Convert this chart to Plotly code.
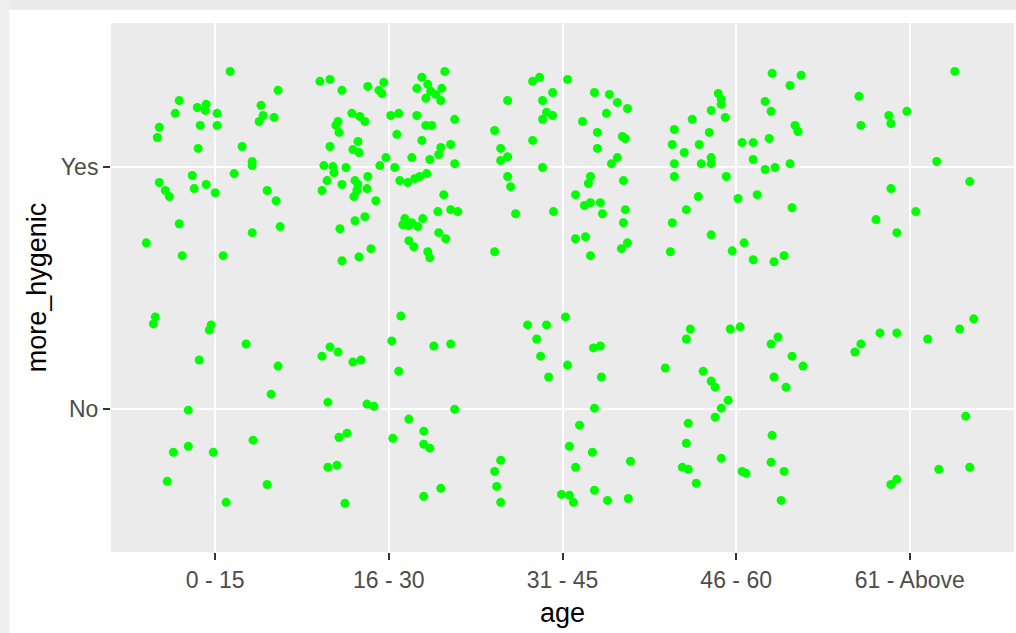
import plotly.graph_objects as go

age_levels = ["0 - 15", "16 - 30", "31 - 45", "46 - 60", "61 - Above"]
hygenic_levels = ["No", "Yes"]

# jitter offsets along x (relative to the age category) and jittered y values (No=0, Yes=1)
g1_dx = [0.086, 0.362, -0.207, 0.264, -0.103, -0.052, -0.057, -0.230, 0.011, 0.276, 0.253, 0.339,
         -0.322, -0.333, -0.086, 0.011, -0.098, 0.155, 0.213, 0.213, -0.132, 0.109, -0.322, -0.287,
         -0.264, -0.121, -0.052, 0.000, 0.299, 0.351, -0.207, 0.213, 0.374, -0.397, -0.190, 0.046,
         -0.345, -0.356, -0.023, -0.034, 0.178, -0.092, 0.362, 0.322, -0.155, 0.218, -0.155, -0.241,
         -0.011, -0.276, 0.299, 0.063]
g1_y = [1.395, 1.317, 1.275, 1.255, 1.246, 1.259, 1.234, 1.222, 1.222, 1.213, 1.188, 1.205,
        1.164, 1.122, 1.172, 1.172, 1.077, 1.085, 1.023, 1.006, 0.965, 0.973, 0.936, 0.903,
        0.878, 0.911, 0.928, 0.894, 0.903, 0.861, 0.766, 0.729, 0.754, 0.687, 0.634, 0.634,
        0.381, 0.352, 0.348, 0.327, 0.269, 0.203, 0.178, 0.062, -0.004, -0.128, -0.153, -0.178,
        -0.178, -0.298, -0.311, -0.385]

g2_dx = [-0.397, -0.339, -0.270, -0.121, -0.029, -0.057, -0.040, 0.322, 0.190, 0.161, 0.224, 0.241,
         0.270, 0.305, 0.213, 0.299, -0.213, -0.167, -0.138, -0.293, -0.305, -0.287, 0.011, 0.057,
         0.161, 0.213, 0.247, 0.379, 0.046, -0.339, -0.178, -0.207, -0.172, 0.190, 0.356, 0.299,
         0.287, 0.132, 0.236, 0.379, -0.017, -0.052, 0.034, -0.374, -0.322, -0.316, -0.247,
         -0.356, -0.385, -0.270, -0.195, -0.178, -0.184, -0.201, -0.121, -0.126, -0.075,
         0.063, 0.109, 0.149, 0.178, 0.218, 0.316, 0.282, 0.356, 0.397,
         0.092, 0.080, 0.132, 0.167, 0.195, 0.115,
         -0.195, -0.138, -0.282, 0.287, 0.328, 0.115, 0.144, -0.103, -0.172, -0.270, 0.224, 0.236,
         0.069, 0.017, 0.259, 0.356, -0.339, -0.293, -0.385, -0.207, -0.161, 0.057, -0.351, -0.126,
         -0.086, 0.379, 0.115, 0.201, -0.287, -0.241, 0.023, 0.201, 0.236, -0.351, -0.299, 0.299,
         0.201, -0.253]
g2_y = [1.354, 1.362, 1.317, 1.333, 1.350, 1.317, 1.304, 1.395, 1.371, 1.325, 1.342, 1.313,
        1.300, 1.325, 1.284, 1.275, 1.222, 1.209, 1.188, 1.188, 1.172, 1.143, 1.213, 1.222,
        1.213, 1.172, 1.172, 1.197, 1.135, 1.085, 1.106, 1.072, 1.060, 1.110, 1.093, 1.081,
        1.052, 1.039, 1.031, 1.014, 1.039, 1.006, 0.998, 1.006, 1.002, 0.977, 0.998,
        0.944, 0.903, 0.928, 0.944, 0.928, 0.903, 0.878, 0.961, 0.911, 0.861,
        0.944, 0.936, 0.952, 0.961, 0.973, 0.886, 0.816, 0.824, 0.816,
        0.787, 0.762, 0.770, 0.754, 0.787, 0.758,
        0.778, 0.795, 0.745, 0.729, 0.704, 0.696, 0.671, 0.663, 0.629, 0.613, 0.650, 0.625,
        0.385, 0.282, 0.261, 0.269, 0.257, 0.236, 0.219, 0.195, 0.203, 0.157, 0.029, 0.021,
        0.012, 0.000, -0.041, -0.091, -0.116, -0.099, -0.120, -0.145, -0.161, -0.240, -0.232, -0.327,
        -0.360, -0.389]

g3_dx = [-0.172, -0.132, 0.029, -0.316, -0.115, -0.057, -0.092, -0.115, -0.057, 0.184, 0.270, 0.316,
         0.374, 0.253, 0.115, -0.391, -0.172, 0.201, 0.345, 0.362, -0.356, 0.201, -0.316, -0.356,
         0.316, 0.282, -0.115, -0.316, -0.299, 0.161, 0.149, 0.351, 0.075, 0.126, 0.161, 0.218,
         0.230, -0.270, -0.052, 0.362, 0.351, 0.075, 0.132, 0.374, 0.339, -0.391, 0.161,
         0.017, -0.201, -0.092, -0.149, 0.178, 0.218, -0.126, 0.029, -0.080, 0.224, 0.184, 0.098,
         0.040, 0.172, -0.356, 0.391, -0.391, 0.075, -0.379, -0.356, -0.006, 0.040, 0.063, 0.184,
         0.259, 0.379]
g3_y = [1.354, 1.371, 1.362, 1.275, 1.275, 1.308, 1.226, 1.197, 1.213, 1.308, 1.300, 1.267,
        1.242, 1.222, 1.188, 1.151, 1.110, 1.143, 1.126, 1.118, 1.077, 1.077, 1.043, 1.027,
        1.039, 1.014, 0.998, 0.961, 0.919, 0.961, 0.932, 0.944, 0.886, 0.841, 0.853, 0.853,
        0.807, 0.807, 0.816, 0.824, 0.770, 0.704, 0.712, 0.687, 0.663, 0.650, 0.634,
        0.381, 0.348, 0.348, 0.290, 0.253, 0.261, 0.219, 0.182, 0.133, 0.133, 0.004, -0.066,
        -0.153, -0.178, -0.211, -0.215, -0.257, -0.240, -0.319, -0.385, -0.352, -0.356, -0.385, -0.335,
        -0.377, -0.369]

g4_dx = [0.207, 0.374, 0.310, -0.103, -0.086, -0.086, 0.167, 0.201, -0.144, -0.253, -0.063, -0.356,
         -0.155, 0.339, 0.356, -0.368, -0.299, -0.213, 0.034, 0.098, 0.190, -0.144, -0.201, -0.144,
         -0.356, 0.098, 0.167, 0.224, 0.310, -0.356, -0.057, -0.218, 0.011, 0.121, -0.287, 0.322,
         -0.368, -0.144, 0.046, -0.379, -0.023, 0.098, 0.218, 0.276,
         -0.264, -0.287, -0.034, 0.023, 0.241, 0.201, 0.322, 0.385, -0.408, -0.190, -0.144, -0.121,
         0.218, 0.287, -0.046, -0.086, -0.121, -0.276, -0.287, 0.207, -0.086, -0.310, -0.276, -0.230,
         0.201, 0.276, 0.034, 0.057, 0.259]
g4_y = [1.387, 1.379, 1.337, 1.304, 1.280, 1.259, 1.271, 1.230, 1.234, 1.197, 1.205, 1.155,
        1.143, 1.172, 1.147, 1.093, 1.060, 1.093, 1.101, 1.101, 1.118, 1.039, 1.014, 1.014,
        1.014, 1.031, 0.990, 0.998, 1.014, 0.961, 0.961, 0.878, 0.870, 0.886, 0.824, 0.832,
        0.770, 0.720, 0.687, 0.650, 0.654, 0.617, 0.609, 0.634,
        0.331, 0.290, 0.331, 0.340, 0.298, 0.269, 0.219, 0.178, 0.170, 0.157, 0.116, 0.091,
        0.133, 0.091, 0.037, 0.004, -0.033, -0.058, -0.141, -0.108, -0.203, -0.240, -0.248, -0.306,
        -0.219, -0.257, -0.257, -0.265, -0.377]

g5_dx = [0.259, -0.293, -0.121, -0.109, -0.017, -0.282, 0.155, 0.345, -0.109, 0.034, -0.195, -0.075,
         0.368, 0.287, 0.103, -0.075, -0.172, -0.282, -0.316, 0.322, 0.167, 0.345, -0.075, -0.109]
g5_y = [1.395, 1.292, 1.213, 1.180, 1.230, 1.172, 1.023, 0.940, 0.911, 0.816, 0.783, 0.729,
        0.373, 0.331, 0.290, 0.315, 0.315, 0.269, 0.236, -0.029, -0.248, -0.240, -0.290, -0.311]

groups = [(g1_dx, g1_y), (g2_dx, g2_y), (g3_dx, g3_y), (g4_dx, g4_y), (g5_dx, g5_y)]

xs, ys = [], []
for i, (dx, yv) in enumerate(groups):
    assert len(dx) == len(yv), (i, len(dx), len(yv))
    xs += [i + 1 + d for d in dx]
    ys += yv

fig = go.Figure()
fig.add_trace(go.Scatter(
    x=xs, y=ys, mode="markers",
    marker=dict(color="#00FF00", size=9, line=dict(width=0)),
    showlegend=False, hoverinfo="skip",
))

font_family = "Liberation Sans, Arial, sans-serif"

fig.update_layout(
    width=1016, height=633,
    margin=dict(l=111, r=2, t=23, b=81, autoexpand=False),
    paper_bgcolor="white",
    plot_bgcolor="#EBEBEB",
    font=dict(family=font_family),
    xaxis=dict(
        range=[0.4, 5.6], tickmode="array", tickvals=[1, 2, 3, 4, 5], ticktext=age_levels,
        showgrid=True, gridcolor="white", gridwidth=2, zeroline=False,
        ticks="outside", ticklen=7, tickwidth=1.5, tickcolor="#333333",
        tickfont=dict(size=23, color="#4D4D4D", family=font_family),
        title=dict(text="age", font=dict(size=27, color="black", family=font_family), standoff=11),
        showline=False, automargin=False,
    ),
    yaxis=dict(
        range=[-0.59, 1.595], tickmode="array", tickvals=[0, 1], ticktext=hygenic_levels,
        showgrid=True, gridcolor="white", gridwidth=2, zeroline=False,
        ticks="outside", ticklen=7, tickwidth=1.5, tickcolor="#333333",
        tickfont=dict(size=23, color="#4D4D4D", family=font_family),
        title=dict(text="more_hygenic", font=dict(size=27, color="black", family=font_family), standoff=6),
        showline=False, automargin=False,
    ),
    shapes=[
        dict(type="rect", xref="paper", yref="paper", x0=-0.13, x1=1.01, y0=1.0252, y1=1.06,
             fillcolor="#E8EAEC", line=dict(width=0), layer="above"),
        dict(type="rect", xref="paper", yref="paper", x0=-0.13, x1=-0.1125, y0=-0.2, y1=1.06,
             fillcolor="#EFEFEF", line=dict(width=0), layer="above"),
    ],
)

fig.write_html(
    "out.html",
    config={"displayModeBar": False},
    post_script="document.body.style.margin='0';document.body.style.overflow='hidden';",
)
